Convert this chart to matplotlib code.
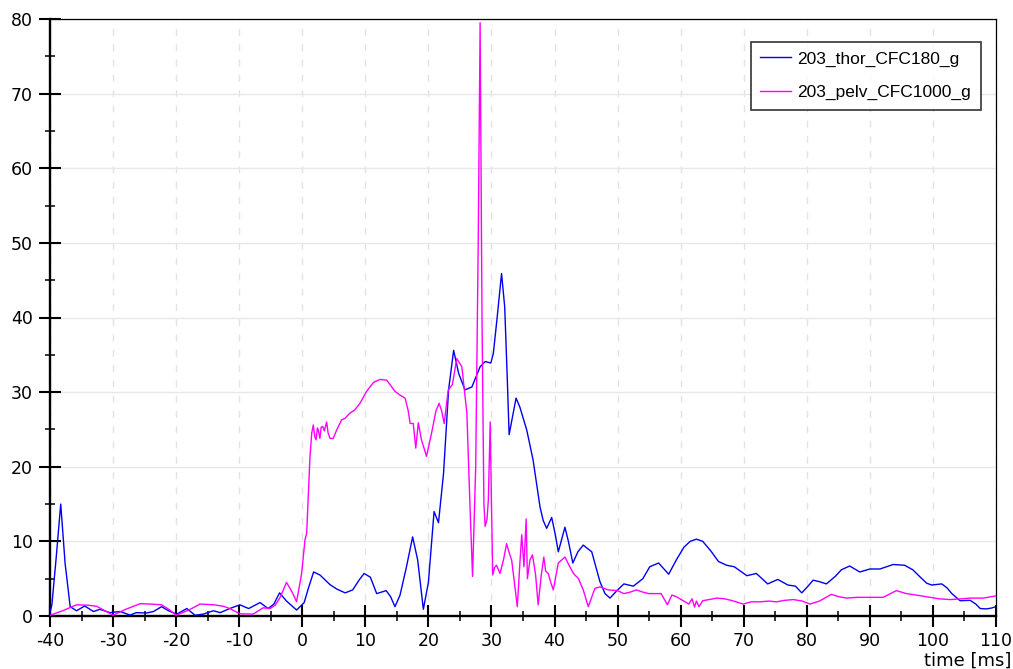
import matplotlib
matplotlib.use("Agg")
import matplotlib.pyplot as plt
from matplotlib.ticker import MultipleLocator

plt.rcParams['font.family'] = ['Liberation Sans', 'DejaVu Sans']
plt.rcParams['axes.unicode_minus'] = False

series_names = ["203_thor_CFC180_g", "203_pelv_CFC1000_g"]
x_label = "time [ms]"

thor_t = [-40, -39.7, -39.0, -38.3, -37.6, -36.8, -35.8, -34.5, -33.1, -32.1,
          -30.5, -28.9, -27.3, -26.3, -24.7, -23.6, -22.3, -21.2, -19.9, -18.3,
          -17.0, -15.7, -14.1, -13.0, -11.5, -9.9, -8.5, -6.7, -5.4, -4.5,
          -3.6, -2.5, -0.9, 0.3, 1.0, 1.8, 2.8, 4.4, 5.5, 6.8,
          8.0, 9.0, 9.8, 10.8, 11.8, 13.3, 14.0, 14.7, 15.5, 16.5,
          17.5, 18.3, 19.2, 20.0, 20.9, 21.6, 22.4, 23.2, 24.0, 24.8,
          25.8, 26.9, 28.2, 29.0, 29.9, 30.3, 30.9, 31.6, 32.1, 32.5,
          32.8, 33.3, 33.9, 34.5, 35.6, 36.6, 37.7, 38.2, 38.75, 39.55,
          40.1, 40.6, 41.65, 42.2, 42.9, 43.7, 44.55, 45.9, 47.2, 48.0,
          48.8, 50.0, 51.0, 52.5, 54.0, 55.1, 56.5, 58.1, 59.3, 60.5,
          61.5, 62.5, 63.5, 64.8, 66.0, 67.3, 68.5, 70.5, 72.0, 73.8,
          75.4, 77.0, 78.2, 79.2, 80.2, 81.0, 82.0, 83.1, 84.5, 85.5,
          86.8, 88.4, 90.0, 91.6, 93.7, 95.5, 96.8, 98.0, 99.0, 99.8,
          101.4, 102.2, 103.0, 104.3, 105.9, 106.8, 107.5, 108.5, 109.2, 110.0]
thor_g = [0.5, 1.5, 8.0, 15.0, 7.0, 1.25, 0.7, 1.34, 0.6, 0.9,
          0.45, 0.6, 0.13, 0.45, 0.4, 0.6, 1.25, 0.7, 0.25, 1.0,
          0.1, 0.25, 0.7, 0.45, 1.0, 1.5, 1.0, 1.8, 1.0, 1.6,
          3.1, 2.0, 0.8, 1.8, 3.8, 5.9, 5.5, 4.2, 3.6, 3.1,
          3.5, 4.8, 5.7, 5.2, 3.0, 3.4, 2.6, 1.25, 2.8, 6.5,
          10.6, 7.5, 0.9, 4.5, 14.0, 12.5, 19.1, 30.3, 35.6, 32.5,
          30.3, 30.7, 33.4, 34.1, 33.9, 35.2, 40.0, 45.9, 41.4, 32.0,
          24.3, 26.5, 29.2, 28.0, 24.9, 20.9, 14.6, 12.8, 11.75, 13.2,
          11.0, 8.6, 11.9, 10.0, 7.1, 8.6, 9.5, 8.6, 4.6, 3.0,
          2.4, 3.5, 4.3, 4.0, 5.0, 6.6, 7.1, 5.6, 7.5, 9.2,
          10.0, 10.3, 10.0, 8.7, 7.3, 6.8, 6.6, 5.4, 5.7, 4.3,
          4.9, 4.15, 4.0, 3.1, 4.0, 4.8, 4.6, 4.3, 5.3, 6.2,
          6.7, 5.9, 6.3, 6.3, 6.9, 6.8, 6.2, 5.2, 4.4, 4.15,
          4.3, 3.8, 3.0, 2.05, 2.1, 1.6, 1.0, 0.95, 1.05, 1.25]

pelv_t = [-40, -38, -35.8, -34, -32.6, -31.5, -30.0, -28, -25.7, -24,
          -22.3, -21, -20.0, -18, -16.2, -14, -12.5, -11.5, -9.9, -7.8,
          -6.2, -5.1, -4.3, -3.5, -2.5, -1.6, -0.9, -0.1, 0.43, 0.7,
          1.22, 1.5, 1.75, 2.0, 2.18, 2.4, 2.55, 2.8, 3.0, 3.24,
          3.5, 3.87, 4.1, 4.4, 4.9, 5.5, 6.25, 6.8, 7.57, 8.3,
          9.15, 10.2, 11.3, 12.3, 13.4, 14.7, 15.5, 16.3, 16.8, 17.1,
          17.6, 18.0, 18.4, 18.9, 19.7, 20.5, 21.2, 21.7, 22.1, 22.5,
          23.15, 23.8, 24.5, 25.3, 26.1, 26.6, 27.0, 27.5, 27.9, 28.2,
          28.5, 28.8, 29.0, 29.3, 29.5, 29.8, 30.0, 30.2, 30.5, 30.8,
          31.35, 31.9, 32.4, 32.8, 33.2, 33.7, 34.1, 34.5, 34.8, 35.15,
          35.5, 35.7, 36.1, 36.5, 37.0, 37.4, 37.9, 38.3, 38.6, 39.0,
          39.4, 39.8, 40.6, 41.65, 42.3, 43.0, 43.8, 44.55, 45.35, 46.4,
          47.2, 48.5, 50.0, 51.0, 52.0, 53.0, 54.0, 55.0, 56.9, 57.9,
          58.6, 59.3, 60.4, 61.3, 61.8, 62.2, 62.5, 62.9, 63.5, 64.5,
          65.7, 67.0, 68.2, 69.9, 71.2, 72.6, 74.0, 75.2, 76.5, 77.9,
          79.3, 80.5, 82.0, 83.9, 85.0, 86.3, 88.0, 90.0, 92.1, 94.2,
          95.8, 97.4, 99.5, 101.0, 102.7, 104.5, 105.9, 108.0, 110.0]
pelv_g = [0.1, 0.7, 1.5, 1.45, 1.3, 0.8, 0.1, 0.9, 1.65, 1.6,
          1.5, 0.8, 0.1, 0.8, 1.6, 1.5, 1.3, 1.0, 0.3, 0.25,
          1.1, 1.0, 1.45, 2.5, 4.5, 3.2, 1.9, 5.7, 10.2, 11.1,
          21.3, 24.5, 25.6, 24.0, 23.6, 25.2, 24.9, 23.8, 25.3, 25.4,
          24.8, 26.0, 24.5, 23.8, 23.8, 25.0, 26.3, 26.5, 27.2, 27.6,
          28.5, 30.1, 31.3, 31.7, 31.6, 30.1, 29.6, 29.2, 27.5, 25.8,
          25.8, 22.5, 25.9, 23.6, 21.4, 24.5, 27.5, 28.5, 27.5, 25.8,
          30.3, 31.0, 34.5, 33.4, 27.2, 14.6, 5.3, 20.0, 50.0, 79.5,
          40.0, 15.0, 12.0, 13.0, 15.5, 26.0, 15.0, 5.5, 6.5, 6.8,
          5.7, 7.5, 9.7, 8.5, 7.5, 4.0, 1.25, 7.0, 10.9, 6.6,
          13.0, 5.0, 7.5, 8.2, 5.5, 1.5, 5.5, 7.9, 6.0, 5.7,
          4.5, 3.5, 7.1, 7.9, 6.8, 5.7, 5.0, 3.5, 1.25, 3.7,
          3.9, 3.5, 3.4, 3.0, 3.2, 3.5, 3.2, 3.0, 3.0, 1.5,
          2.8, 2.6, 2.05, 1.6, 2.3, 1.2, 2.0, 1.25, 2.05, 2.2,
          2.4, 2.3, 2.05, 1.6, 1.9, 1.9, 2.0, 1.9, 2.1, 2.2,
          2.0, 1.6, 2.0, 2.9, 2.6, 2.4, 2.5, 2.5, 2.5, 3.4,
          3.0, 2.8, 2.5, 2.3, 2.2, 2.3, 2.4, 2.4, 2.7]

x_ticks = list(range(-40, 111, 10))
y_ticks = list(range(0, 81, 10))

fig = plt.figure(figsize=(10.13, 6.69), dpi=100)
ax = fig.add_axes([50/1013, 1-616/669, 946/1013, 597/669])

ax.plot(thor_t, thor_g, color='#0000ee', lw=1.0, label=series_names[0], zorder=3)
ax.plot(pelv_t, pelv_g, color='#ff00ff', lw=1.0, label=series_names[1], zorder=3)

ax.set_xlim(-40, 110)
ax.set_ylim(0, 80)
ax.set_xticks(x_ticks)
ax.set_yticks(y_ticks)
ax.xaxis.set_minor_locator(MultipleLocator(5))
ax.yaxis.set_minor_locator(MultipleLocator(5))

ax.yaxis.grid(True, which='major', color='#e8e8e8', lw=1.0, ls='-', zorder=0)
ax.xaxis.grid(True, which='major', color='#e3e3e3', lw=1.0, ls=(0, (5, 6)), zorder=0)
ax.set_axisbelow(True)

ax.tick_params(axis='both', which='major', direction='inout', length=15.5, width=1.5,
               labelsize=12.5, color='black')
ax.tick_params(axis='both', which='minor', direction='inout', length=7.5, width=1.1, color='black')
ax.tick_params(axis='y', which='major', pad=4.5)
ax.tick_params(axis='x', which='major', pad=3.5)
for lab in ax.get_xticklabels() + ax.get_yticklabels():
    lab.set_family('DejaVu Sans')

for s in ['left', 'bottom']:
    ax.spines[s].set_linewidth(1.7)
for s in ['top', 'right']:
    ax.spines[s].set_linewidth(0.9)

leg = ax.legend(loc='upper right', bbox_to_anchor=(0.984, 0.962), borderaxespad=0,
                fontsize=12.5, frameon=True, fancybox=False, handlelength=1.75,
                labelspacing=1.05, borderpad=0.55, handletextpad=0.4)
leg.get_frame().set_edgecolor('black')
leg.get_frame().set_linewidth(1.2)

fig.text(1011/1013, 1-661/669, x_label, ha='right', va='center', fontsize=13,
         family='DejaVu Sans')

fig.savefig('out.png', dpi=100)
